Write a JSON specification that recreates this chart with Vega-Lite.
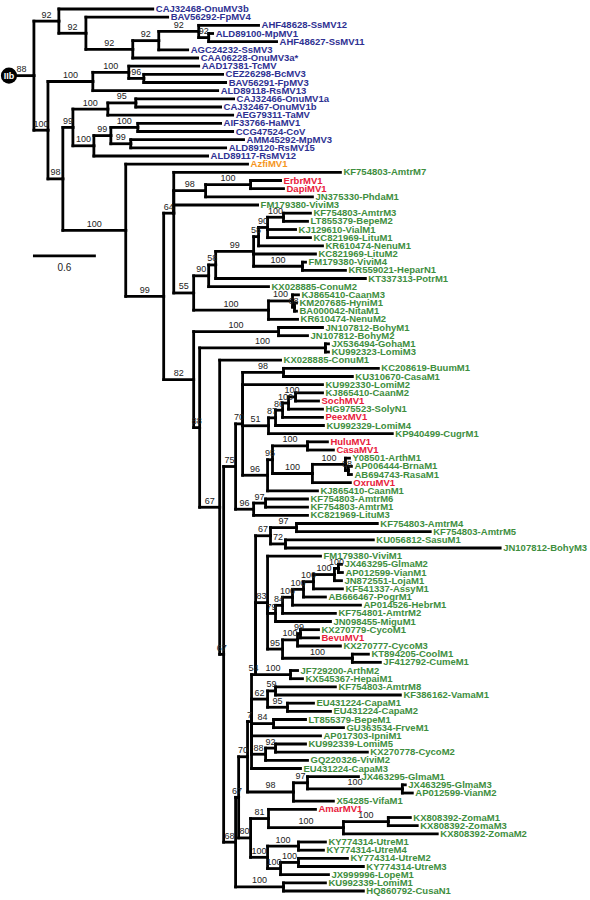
{
"$schema":"https://vega.github.io/schema/vega-lite/v6.json",
"width":590,"height":900,"padding":0,
"autosize":{"type":"fit","contains":"padding"},
"background":"white",
"config":{"view":{"stroke":null}},
"datasets":{
"tree":[
{"id":"r","parent":null,"x":0.076,"y":8.16,"clade":"IIb"},
{"id":"R0","parent":"r","x":0.314,"y":8.16,"sup":"88"},
{"id":"A","parent":"R0","x":0.552,"y":1.485,"sup":"92"},
{"id":"A1","parent":"A","x":0.810,"y":2.97,"sup":"92"},
{"id":"A2","parent":"A1","x":1.257,"y":4.94,"sup":"92"},
{"id":"A3","parent":"A2","x":1.505,"y":3.875,"sup":"92"},
{"id":"A4","parent":"A3","x":1.886,"y":2.75,"sup":"92"},
{"id":"A5","parent":"A4","x":1.981,"y":3.5,"sup":"92"},
{"id":"B","parent":"R0","x":0.448,"y":14.84,"sup":"100"},
{"id":"T","parent":"B","x":0.876,"y":8.875,"sup":"100"},
{"id":"T1","parent":"T","x":1.219,"y":7.75,"sup":"100"},
{"id":"T2","parent":"T1","x":1.362,"y":8.5,"sup":"96"},
{"id":"D","parent":"B","x":0.590,"y":20.8,"sup":"98"},
{"id":"E","parent":"D","x":0.686,"y":14.5,"sup":"99"},
{"id":"E1","parent":"E","x":1.019,"y":12.25,"sup":"100"},
{"id":"E1a","parent":"E1","x":1.286,"y":11.5,"sup":"95"},
{"id":"E2","parent":"E","x":0.886,"y":16.75,"sup":"100"},
{"id":"E2a","parent":"E2","x":1.048,"y":15.5,"sup":"99"},
{"id":"E2b","parent":"E2a","x":1.305,"y":14.5,"sup":"100"},
{"id":"E2c","parent":"E2a","x":1.238,"y":16.5,"sup":"99"},
{"id":"F","parent":"D","x":1.190,"y":27.1,"sup":"100"},
{"id":"G","parent":"F","x":1.552,"y":35.19,"sup":"99"},
{"id":"G1","parent":"G","x":1.648,"y":25.0,"sup":"64"},
{"id":"G2","parent":"G1","x":1.952,"y":22.25,"sup":"98"},
{"id":"G2a","parent":"G2","x":2.381,"y":21.5,"sup":"100"},
{"id":"G3","parent":"G1","x":1.838,"y":34.77,"sup":"55"},
{"id":"G4","parent":"G3","x":1.981,"y":32.67,"sup":"90"},
{"id":"G6","parent":"G4","x":2.048,"y":31.34,"sup":"58"},
{"id":"G7","parent":"G6","x":2.410,"y":29.69,"sup":"99"},
{"id":"G8","parent":"G7","x":2.457,"y":27.875,"sup":"58"},
{"id":"G10","parent":"G8","x":2.543,"y":26.75,"sup":"90"},
{"id":"G11","parent":"G10","x":2.695,"y":25.5,"sup":"100"},
{"id":"G9","parent":"G7","x":2.876,"y":31.5,"sup":"100"},
{"id":"G5","parent":"G3","x":2.552,"y":36.875,"sup":"100"},
{"id":"G5a","parent":"G5","x":2.781,"y":35.75,"sup":"100"},
{"id":"G5b","parent":"G5a","x":2.800,"y":36.5,"sup":"68"},
{"id":"H","parent":"G","x":1.838,"y":45.38,"sup":"82"},
{"id":"H1","parent":"H","x":2.648,"y":39.5,"sup":"100"},
{"id":"I","parent":"H","x":1.895,"y":51.26,"sup":"88"},
{"id":"H2","parent":"I","x":3.095,"y":41.5,"sup":"100"},
{"id":"J","parent":"I","x":2.086,"y":61.01,"sup":"67"},
{"id":"J2","parent":"J","x":2.124,"y":79.02,"sup":"67"},
{"id":"N","parent":"J2","x":2.238,"y":56.02,"sup":"75"},
{"id":"K","parent":"N","x":2.305,"y":50.8,"sup":"70"},
{"id":"K1","parent":"K","x":2.695,"y":44.5,"sup":"98"},
{"id":"L","parent":"K","x":2.552,"y":51.03,"sup":"51"},
{"id":"L1","parent":"L","x":2.619,"y":50.06,"sup":"87"},
{"id":"L2","parent":"L1","x":2.686,"y":49.125,"sup":"86"},
{"id":"L3","parent":"L2","x":2.743,"y":48.25,"sup":"100"},
{"id":"L4","parent":"L3","x":2.810,"y":47.5,"sup":"100"},
{"id":"M","parent":"K","x":2.543,"y":57.09,"sup":"96"},
{"id":"M1","parent":"M","x":2.590,"y":55.19,"sup":"95"},
{"id":"M2","parent":"M1","x":2.924,"y":53.5,"sup":"100"},
{"id":"M3","parent":"M1","x":2.971,"y":56.875,"sup":"100"},
{"id":"M4","parent":"M3","x":3.286,"y":55.75,"sup":"100"},
{"id":"M5","parent":"M4","x":3.314,"y":56.5,"sup":"88"},
{"id":"O","parent":"N","x":2.410,"y":61.25,"sup":"96"},
{"id":"O1","parent":"O","x":2.524,"y":60.5,"sup":"97"},
{"id":"Z","parent":"J2","x":2.238,"y":102.02,"sup":"68"},
{"id":"Z1","parent":"Z","x":2.267,"y":96.53,"sup":"67"},
{"id":"W","parent":"Z1","x":2.352,"y":91.56,"sup":"70"},
{"id":"V","parent":"W","x":2.390,"y":87.25,"sup":"7"},
{"id":"S","parent":"V","x":2.429,"y":81.5,"sup":"54"},
{"id":"P","parent":"S","x":2.571,"y":64.5,"sup":"67"},
{"id":"P1","parent":"P","x":2.819,"y":63.5,"sup":"97"},
{"id":"P2","parent":"P","x":2.714,"y":65.5,"sup":"72"},
{"id":"Q","parent":"S","x":2.543,"y":72.69,"sup":"83"},
{"id":"Q1","parent":"Q","x":2.619,"y":74.01,"sup":"79"},
{"id":"Q3","parent":"Q1","x":2.686,"y":73.02,"sup":"84"},
{"id":"Q4","parent":"Q3","x":2.781,"y":72.03,"sup":"100"},
{"id":"Q5","parent":"Q4","x":2.886,"y":71.06,"sup":"100"},
{"id":"Q6","parent":"Q5","x":2.981,"y":70.125,"sup":"100"},
{"id":"Q7","parent":"Q6","x":3.181,"y":69.25,"sup":"100"},
{"id":"Q8","parent":"Q7","x":3.219,"y":68.5,"sup":"100"},
{"id":"Q2","parent":"Q","x":2.686,"y":78.375,"sup":"95"},
{"id":"Q9","parent":"Q2","x":2.829,"y":77.25,"sup":"100"},
{"id":"Q10","parent":"Q9","x":2.857,"y":76.5,"sup":"99"},
{"id":"Q11","parent":"Q2","x":3.352,"y":79.5,"sup":"100"},
{"id":"AR","parent":"S","x":2.762,"y":81.5,"sup":"100"},
{"id":"S62","parent":"V","x":2.543,"y":84.5,"sup":"62"},
{"id":"S59","parent":"S62","x":2.619,"y":83.5,"sup":"59"},
{"id":"S95","parent":"S62","x":2.733,"y":85.5,"sup":"95"},
{"id":"S84","parent":"V","x":2.600,"y":87.5,"sup":"84"},
{"id":"S88","parent":"V","x":2.524,"y":91.25,"sup":"88"},
{"id":"S92","parent":"S88","x":2.619,"y":90.5,"sup":"92"},
{"id":"X","parent":"W","x":2.790,"y":95.875,"sup":"98"},
{"id":"X1","parent":"X","x":2.924,"y":94.75,"sup":"97"},
{"id":"X2","parent":"X1","x":3.829,"y":95.5,"sup":"100"},
{"id":"Z2","parent":"Z1","x":2.381,"y":101.5,"sup":"80"},
{"id":"Z3","parent":"Z2","x":2.552,"y":99.125,"sup":"81"},
{"id":"Z5","parent":"Z3","x":3.267,"y":100.25,"sup":"100"},
{"id":"Z6","parent":"Z5","x":3.695,"y":99.5,"sup":"100"},
{"id":"Z4","parent":"Z2","x":2.543,"y":103.875,"sup":"100"},
{"id":"Z7","parent":"Z4","x":2.838,"y":102.5,"sup":"100"},
{"id":"Z8","parent":"Z4","x":2.667,"y":105.25,"sup":"100"},
{"id":"Z9","parent":"Z8","x":2.838,"y":104.5,"sup":"100"},
{"id":"ZL","parent":"Z","x":2.695,"y":107.5,"sup":"100"},
{"id":"n0","parent":"A","x":1.448,"y":0,"name":"CAJ32468-OnuMV3b","grp":"b"},
{"id":"n1","parent":"A1","x":1.590,"y":1,"name":"BAV56292-FpMV4","grp":"b"},
{"id":"n2","parent":"A4","x":2.457,"y":2,"name":"AHF48628-SsMV12","grp":"b"},
{"id":"n3","parent":"A5","x":2.019,"y":3,"name":"ALD89100-MpMV1","grp":"b"},
{"id":"n4","parent":"A5","x":2.629,"y":4,"name":"AHF48627-SsMV11","grp":"b"},
{"id":"n5","parent":"A3","x":1.781,"y":5,"name":"AGC24232-SsMV3","grp":"b"},
{"id":"n6","parent":"A2","x":1.876,"y":6,"name":"CAA06228-OnuMV3a*","grp":"b"},
{"id":"n7","parent":"T1","x":1.886,"y":7,"name":"AAD17381-TcMV","grp":"b"},
{"id":"n8","parent":"T2","x":2.114,"y":8,"name":"CEZ26298-BcMV3","grp":"b"},
{"id":"n9","parent":"T2","x":2.143,"y":9,"name":"BAV56291-FpMV3","grp":"b"},
{"id":"n10","parent":"T","x":2.067,"y":10,"name":"ALD89118-RsMV13","grp":"b"},
{"id":"n11","parent":"E1a","x":2.219,"y":11,"name":"CAJ32466-OnuMV1a","grp":"b"},
{"id":"n12","parent":"E1a","x":2.095,"y":12,"name":"CAJ32467-OnuMV1b","grp":"b"},
{"id":"n13","parent":"E1","x":2.210,"y":13,"name":"AEG79311-TaMV","grp":"b"},
{"id":"n14","parent":"E2b","x":2.095,"y":14,"name":"AIF33766-HaMV1","grp":"b"},
{"id":"n15","parent":"E2b","x":2.210,"y":15,"name":"CCG47524-CoV","grp":"b"},
{"id":"n16","parent":"E2c","x":2.314,"y":16,"name":"AMM45292-MpMV3","grp":"b"},
{"id":"n17","parent":"E2c","x":2.143,"y":17,"name":"ALD89120-RsMV15","grp":"b"},
{"id":"n18","parent":"E2","x":1.971,"y":18,"name":"ALD89117-RsMV12","grp":"b"},
{"id":"n19","parent":"F","x":2.352,"y":19,"name":"AzfiMV1","grp":"o"},
{"id":"n20","parent":"G1","x":3.238,"y":20,"name":"KF754803-AmtrM7","grp":"g"},
{"id":"n21","parent":"G2a","x":2.667,"y":21,"name":"ErbrMV1","grp":"r"},
{"id":"n22","parent":"G2a","x":2.695,"y":22,"name":"DapiMV1","grp":"r"},
{"id":"n23","parent":"G2","x":2.971,"y":23,"name":"JN375330-PhdaM1","grp":"g"},
{"id":"n24","parent":"G1","x":2.448,"y":24,"name":"FM179380-ViviM3","grp":"g"},
{"id":"n25","parent":"G11","x":2.952,"y":25,"name":"KF754803-AmtrM3","grp":"g"},
{"id":"n26","parent":"G11","x":2.924,"y":26,"name":"LT855379-BepeM2","grp":"g"},
{"id":"n27","parent":"G10","x":2.810,"y":27,"name":"KJ129610-VialM1","grp":"g"},
{"id":"n28","parent":"G10","x":2.952,"y":28,"name":"KC821969-LituM1","grp":"g"},
{"id":"n29","parent":"G8","x":3.067,"y":29,"name":"KR610474-NenuM1","grp":"g"},
{"id":"n30","parent":"G7","x":3.000,"y":30,"name":"KC821969-LituM2","grp":"g"},
{"id":"n31","parent":"G9","x":2.905,"y":31,"name":"FM179380-ViviM4","grp":"g"},
{"id":"n32","parent":"G9","x":3.286,"y":32,"name":"KR559021-HeparN1","grp":"g"},
{"id":"n33","parent":"G6","x":3.476,"y":33,"name":"KT337313-PotrM1","grp":"g"},
{"id":"n34","parent":"G4","x":2.552,"y":34,"name":"KX028885-ConuM2","grp":"g"},
{"id":"n35","parent":"G5a","x":2.838,"y":35,"name":"KJ865410-CaanM3","grp":"g"},
{"id":"n36","parent":"G5b","x":2.819,"y":36,"name":"KM207685-HyniM1","grp":"g"},
{"id":"n37","parent":"G5b","x":2.819,"y":37,"name":"BA000042-NitaM1","grp":"g"},
{"id":"n38","parent":"G5","x":2.829,"y":38,"name":"KR610474-NenuM2","grp":"g"},
{"id":"n39","parent":"H1","x":3.067,"y":39,"name":"JN107812-BohyM1","grp":"g"},
{"id":"n40","parent":"H1","x":2.924,"y":40,"name":"JN107812-BohyM2","grp":"g"},
{"id":"n41","parent":"H2","x":3.124,"y":41,"name":"JX536494-GohaM1","grp":"g"},
{"id":"n42","parent":"H2","x":3.124,"y":42,"name":"KU992323-LomiM3","grp":"g"},
{"id":"n43","parent":"J","x":2.667,"y":43,"name":"KX028885-ConuM1","grp":"g"},
{"id":"n44","parent":"K1","x":3.600,"y":44,"name":"KC208619-BuumM1","grp":"g"},
{"id":"n45","parent":"K1","x":3.352,"y":45,"name":"KU310670-CasaM1","grp":"g"},
{"id":"n46","parent":"K","x":3.067,"y":46,"name":"KU992330-LomiM2","grp":"g"},
{"id":"n47","parent":"L4","x":3.067,"y":47,"name":"KJ865410-CaanM2","grp":"g"},
{"id":"n48","parent":"L4","x":3.029,"y":48,"name":"SochMV1","grp":"r"},
{"id":"n49","parent":"L3","x":3.067,"y":49,"name":"HG975523-SolyN1","grp":"g"},
{"id":"n50","parent":"L2","x":3.067,"y":50,"name":"PeexMV1","grp":"r"},
{"id":"n51","parent":"L1","x":3.076,"y":51,"name":"KU992329-LomiM4","grp":"g"},
{"id":"n52","parent":"L","x":3.733,"y":52,"name":"KP940499-CugrM1","grp":"g"},
{"id":"n53","parent":"M2","x":3.114,"y":53,"name":"HuluMV1","grp":"r"},
{"id":"n54","parent":"M2","x":3.171,"y":54,"name":"CasaMV1","grp":"r"},
{"id":"n55","parent":"M4","x":3.324,"y":55,"name":"Y08501-ArthM1","grp":"g"},
{"id":"n56","parent":"M5","x":3.343,"y":56,"name":"AP006444-BrnaM1","grp":"g"},
{"id":"n57","parent":"M5","x":3.343,"y":57,"name":"AB694743-RasaM1","grp":"g"},
{"id":"n58","parent":"M3","x":3.333,"y":58,"name":"OxruMV1","grp":"r"},
{"id":"n59","parent":"M","x":3.019,"y":59,"name":"KJ865410-CaanM1","grp":"g"},
{"id":"n60","parent":"O1","x":2.924,"y":60,"name":"KF754803-AmtrM6","grp":"g"},
{"id":"n61","parent":"O1","x":2.924,"y":61,"name":"KF754803-AmtrM1","grp":"g"},
{"id":"n62","parent":"O","x":2.924,"y":62,"name":"KC821969-LituM3","grp":"g"},
{"id":"n63","parent":"P1","x":3.590,"y":63,"name":"KF754803-AmtrM4","grp":"g"},
{"id":"n64","parent":"P1","x":4.095,"y":64,"name":"KF754803-AmtrM5","grp":"g"},
{"id":"n65","parent":"P2","x":3.552,"y":65,"name":"KU056812-SasuM1","grp":"g"},
{"id":"n66","parent":"P2","x":4.762,"y":66,"name":"JN107812-BohyM3","grp":"g"},
{"id":"n67","parent":"Q","x":3.048,"y":67,"name":"FM179380-ViviM1","grp":"g"},
{"id":"n68","parent":"Q8","x":3.248,"y":68,"name":"JX463295-GlmaM2","grp":"g"},
{"id":"n69","parent":"Q8","x":3.257,"y":69,"name":"AP012599-VianM1","grp":"g"},
{"id":"n70","parent":"Q7","x":3.248,"y":70,"name":"JN872551-LojaM1","grp":"g"},
{"id":"n71","parent":"Q6","x":3.257,"y":71,"name":"KF541337-AssyM1","grp":"g"},
{"id":"n72","parent":"Q5","x":3.095,"y":72,"name":"AB666467-PogrM1","grp":"g"},
{"id":"n73","parent":"Q4","x":3.429,"y":73,"name":"AP014526-HebrM1","grp":"g"},
{"id":"n74","parent":"Q3","x":3.190,"y":74,"name":"KF754801-AmtrM2","grp":"g"},
{"id":"n75","parent":"Q1","x":3.143,"y":75,"name":"JN098455-MiguM1","grp":"g"},
{"id":"n76","parent":"Q10","x":3.029,"y":76,"name":"KX270779-CycoM1","grp":"g"},
{"id":"n77","parent":"Q10","x":3.029,"y":77,"name":"BevuMV1","grp":"r"},
{"id":"n78","parent":"Q9","x":3.238,"y":78,"name":"KX270777-CycoM3","grp":"g"},
{"id":"n79","parent":"Q11","x":3.505,"y":79,"name":"KT894205-CoolM1","grp":"g"},
{"id":"n80","parent":"Q11","x":3.619,"y":80,"name":"JF412792-CumeM1","grp":"g"},
{"id":"n81","parent":"AR","x":2.829,"y":81,"name":"JF729200-ArthM2","grp":"g"},
{"id":"n82","parent":"AR","x":2.876,"y":82,"name":"KX545367-HepaiM1","grp":"g"},
{"id":"n83","parent":"S59","x":3.190,"y":83,"name":"KF754803-AmtrM8","grp":"g"},
{"id":"n84","parent":"S59","x":3.810,"y":84,"name":"KF386162-VamaM1","grp":"g"},
{"id":"n85","parent":"S95","x":2.981,"y":85,"name":"EU431224-CapaM1","grp":"g"},
{"id":"n86","parent":"S95","x":3.143,"y":86,"name":"EU431224-CapaM2","grp":"g"},
{"id":"n87","parent":"S84","x":2.905,"y":87,"name":"LT855379-BepeM1","grp":"g"},
{"id":"n88","parent":"S84","x":3.267,"y":88,"name":"GU363534-FrveM1","grp":"g"},
{"id":"n89","parent":"V","x":3.048,"y":89,"name":"AP017303-IpniM1","grp":"g"},
{"id":"n90","parent":"S92","x":2.905,"y":90,"name":"KU992339-LomiM5","grp":"g"},
{"id":"n91","parent":"S92","x":3.495,"y":91,"name":"KX270778-CycoM2","grp":"g"},
{"id":"n92","parent":"S88","x":2.924,"y":92,"name":"GQ220326-ViviM2","grp":"g"},
{"id":"n93","parent":"V","x":2.857,"y":93,"name":"EU431224-CapaM3","grp":"g"},
{"id":"n94","parent":"X1","x":3.410,"y":94,"name":"JX463295-GlmaM1","grp":"g"},
{"id":"n95","parent":"X2","x":3.857,"y":95,"name":"JX463295-GlmaM3","grp":"g"},
{"id":"n96","parent":"X2","x":3.924,"y":96,"name":"AP012599-VianM2","grp":"g"},
{"id":"n97","parent":"X","x":3.171,"y":97,"name":"X54285-VifaM1","grp":"g"},
{"id":"n98","parent":"Z3","x":3.000,"y":98,"name":"AmarMV1","grp":"r"},
{"id":"n99","parent":"Z6","x":3.905,"y":99,"name":"KX808392-ZomaM1","grp":"g"},
{"id":"n100","parent":"Z6","x":3.971,"y":100,"name":"KX808392-ZomaM3","grp":"g"},
{"id":"n101","parent":"Z5","x":4.162,"y":101,"name":"KX808392-ZomaM2","grp":"g"},
{"id":"n102","parent":"Z7","x":3.095,"y":102,"name":"KY774314-UtreM1","grp":"g"},
{"id":"n103","parent":"Z7","x":3.076,"y":103,"name":"KY774314-UtreM4","grp":"g"},
{"id":"n104","parent":"Z9","x":3.305,"y":104,"name":"KY774314-UtreM2","grp":"g"},
{"id":"n105","parent":"Z9","x":3.457,"y":105,"name":"KY774314-UtreM3","grp":"g"},
{"id":"n106","parent":"Z8","x":3.124,"y":106,"name":"JX999996-LopeM1","grp":"g"},
{"id":"n107","parent":"ZL","x":3.095,"y":107,"name":"KU992339-LomiM1","grp":"g"},
{"id":"n108","parent":"ZL","x":3.457,"y":108,"name":"HQ860792-CusaN1","grp":"g"}
],
"scalebar":[{"from":0.305,"to":0.905,"y":30.24,"label":"0.6"}]
},
"layer":[
{"data":{"name":"tree"},
 "transform":[{"lookup":"parent","from":{"data":{"name":"tree"},"key":"id","fields":["x","y"]},"as":["px","py"]},{"filter":"datum.px != null"}],
 "mark":{"type":"rule","color":"black","strokeWidth":2.8,"strokeCap":"square"},
 "encoding":{
  "x":{"field":"px","type":"quantitative","scale":{"domain":[0,5.619],"nice":false,"zero":false},"axis":null},
  "y":{"field":"py","type":"quantitative","scale":{"domain":[-1.102,109.1],"nice":false,"zero":false,"reverse":true},"axis":null},
  "y2":{"field":"y"}}},
{"data":{"name":"tree"},
 "transform":[{"lookup":"parent","from":{"data":{"name":"tree"},"key":"id","fields":["x","y"]},"as":["px","py"]},{"filter":"datum.px != null"}],
 "mark":{"type":"rule","color":"black","strokeWidth":2.8,"strokeCap":"square"},
 "encoding":{
  "x":{"field":"px","type":"quantitative","scale":{"domain":[0,5.619],"nice":false,"zero":false},"axis":null},
  "x2":{"field":"x"},
  "y":{"field":"y","type":"quantitative","scale":{"domain":[-1.102,109.1],"nice":false,"zero":false,"reverse":true},"axis":null}}},
{"data":{"name":"tree"},
 "transform":[{"filter":"datum.name != null"}],
 "mark":{"type":"text","align":"left","baseline":"middle","dx":3,"font":"Liberation Sans","fontSize":9.5,"fontWeight":"bold"},
 "encoding":{
  "x":{"field":"x","type":"quantitative","scale":{"domain":[0,5.619],"nice":false,"zero":false},"axis":null},
  "y":{"field":"y","type":"quantitative","scale":{"domain":[-1.102,109.1],"nice":false,"zero":false,"reverse":true},"axis":null},
  "text":{"field":"name"},
  "color":{"field":"grp","type":"nominal","scale":{"domain":["b","g","r","o"],"range":["#2e3192","#3e8e3e","#e8203a","#f5961e"]},"legend":null}}},
{"data":{"name":"tree"},
 "transform":[{"filter":"datum.sup != null"},{"lookup":"parent","from":{"data":{"name":"tree"},"key":"id","fields":["x"]},"as":["px"]},{"fold":["px","x"],"as":["end","xv"]},{"aggregate":[{"op":"mean","field":"xv","as":"xm"}],"groupby":["id","y","sup"]}],
 "mark":{"type":"text","align":"center","baseline":"bottom","dy":-1.5,"font":"Liberation Sans","fontSize":9,"color":"#222"},
 "encoding":{
  "x":{"field":"xm","type":"quantitative","scale":{"domain":[0,5.619],"nice":false,"zero":false},"axis":null},
  "y":{"field":"y","type":"quantitative","scale":{"domain":[-1.102,109.1],"nice":false,"zero":false,"reverse":true},"axis":null},
  "text":{"field":"sup"}}},
{"data":{"name":"tree"},
 "transform":[{"filter":"datum.clade != null"}],
 "mark":{"type":"point","filled":true,"color":"black","opacity":1,"size":260},
 "encoding":{
  "x":{"field":"x","type":"quantitative","scale":{"domain":[0,5.619],"nice":false,"zero":false},"axis":null},
  "y":{"field":"y","type":"quantitative","scale":{"domain":[-1.102,109.1],"nice":false,"zero":false,"reverse":true},"axis":null}}},
{"data":{"name":"tree"},
 "transform":[{"filter":"datum.clade != null"}],
 "mark":{"type":"text","align":"center","baseline":"middle","font":"Liberation Sans","fontSize":9,"fontWeight":"bold","color":"white"},
 "encoding":{
  "x":{"field":"x","type":"quantitative","scale":{"domain":[0,5.619],"nice":false,"zero":false},"axis":null},
  "y":{"field":"y","type":"quantitative","scale":{"domain":[-1.102,109.1],"nice":false,"zero":false,"reverse":true},"axis":null},
  "text":{"field":"clade"}}},
{"data":{"name":"scalebar"},
 "mark":{"type":"rule","color":"black","strokeWidth":2.8},
 "encoding":{
  "x":{"field":"from","type":"quantitative","scale":{"domain":[0,5.619],"nice":false,"zero":false},"axis":null},
  "x2":{"field":"to"},
  "y":{"field":"y","type":"quantitative","scale":{"domain":[-1.102,109.1],"nice":false,"zero":false,"reverse":true},"axis":null}}},
{"data":{"name":"scalebar"},
 "mark":{"type":"text","align":"center","baseline":"middle","dx":31.5,"dy":12,"font":"Liberation Sans","fontSize":10,"color":"#222"},
 "encoding":{
  "x":{"field":"from","type":"quantitative","scale":{"domain":[0,5.619],"nice":false,"zero":false},"axis":null},
  "y":{"field":"y","type":"quantitative","scale":{"domain":[-1.102,109.1],"nice":false,"zero":false,"reverse":true},"axis":null},
  "text":{"field":"label"}}}
]
}
